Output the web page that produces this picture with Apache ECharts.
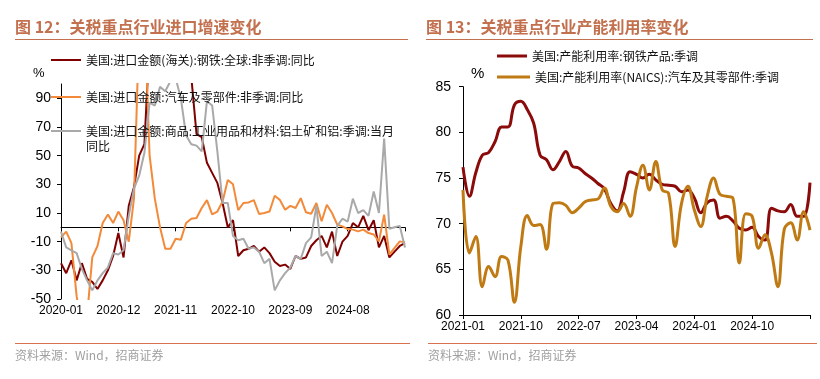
<!DOCTYPE html>
<html><head><meta charset="utf-8">
<script src="https://cdn.jsdelivr.net/npm/echarts@6/dist/echarts.min.js"></script>
<style>html,body{margin:0;padding:0;background:#fff}#c{width:820px;height:379px}</style>
</head><body><div id="c"></div>
<script>
function monthLabels(y, m, n) {
  const out = [];
  for (let k = 0; k < n; k++) {
    const mm = m - 1 + k;
    const yy = y + Math.floor(mm / 12);
    const mo = (mm % 12) + 1;
    out.push(yy + '-' + (mo < 10 ? '0' + mo : '' + mo));
  }
  return out;
}
// categories
const catsImport = monthLabels(2020, 1, 67);   // 2020-01 .. 2025-07
const catsUtil = monthLabels(2021, 1, 55);     // 2021-01 .. 2025-07

// left panel: import growth yoy (%)
const importSteel = [-25,-32,-23,-37,-25,-36,-38,-43,-37,-30,-20,-4,-21,15,28,50,58,130,160,175,180,170,150,140,120,105,65,63,45,38,31,17,0,5,-20,-16,-15,-13,-17,-14,-18,-24,-27,-26,-29,-20,-22,-21,-13,-9,-6,-14,-3,-20,-10,-6,3,0,8,-2,5,-14,-6,-21,-17,-13,-11];
const importAuto = [-7,-3,-11,-48,-70,-62,-21,-13,3,9,3,11,5,-10,20,140,150,50,20,0,-15,-15,-8,-8.6,3,6,6.5,13.5,19,9,11,18,33,30,12,17,17.4,19,9.3,10,11,22,19,12.3,15,13.5,20.4,10.5,9.5,17,4.2,15.8,10,1.9,0.7,-1.2,-1.6,-2.8,-1.6,-4,-5,-9.8,8.8,-19,-14.4,-9.8,-10.5];
const importAlu = [-3,-14,-16,-18,-29,-37,-44,-37,-32,-28,-18,-19,-16,8,27,36,52,87,85,98,95,102,104,90,64,58,57,53,88,85,53,17,17,-6,-9,-8,-15,-14,-17,-25,-22,-44,-37,-32,-28,-20,-22,-11,-7,15,-20,-17,-25,1,6,4,20,10,12,8,25,10,62,-1,0,1,-14];

// right panel: capacity utilization (%)
const utilSteel = [76.2,73.0,75.6,77.5,77.8,79.0,80.6,80.6,83.0,83.4,82.5,81.0,77.5,77.0,75.9,76.8,77.9,76.3,76.1,75.5,75.0,74.4,73.8,72.2,71.4,73.5,75.7,75.4,75.0,75.4,74.8,74.3,74.2,74.1,73.5,73.7,72.8,71.2,72.3,72.6,70.6,70.8,70.3,69.5,69.3,69.6,68.6,68.2,71.7,71.4,71.3,72.1,70.8,70.8,74.5];
const utilAuto = [73.7,66.8,68.6,63.1,65.3,64.2,66.4,66.0,61.4,67.5,70.9,69.8,69.9,67.2,72.2,72.3,72.0,71.2,71.7,72.4,72.6,72.7,73.9,71.9,71.3,72.2,70.8,74.0,76.4,73.7,76.8,73.7,73.3,67.5,72.2,74.1,71.5,69.7,73.0,75.0,73.2,73.0,72.8,65.7,71.1,70.8,67.3,68.8,66.8,63.1,69.4,70.1,68.2,71.3,69.3];

const namesLeft = ['美国:进口金额(海关):钢铁:全球:非季调:同比', '美国:进口金额:汽车及零部件:非季调:同比', '美国:进口金额:商品:工业用品和材料:铝土矿和铝:季调:当月同比'];
const namesRight = ['美国:产能利用率:钢铁产品:季调', '美国:产能利用率(NAICS):汽车及其零部件:季调'];
const titles = ['图 12：关税重点行业进口增速变化', '图 13：关税重点行业产能利用率变化'];
const source = '资料来源：Wind，招商证券';

const NUM = '"Liberation Sans", Arial, sans-serif';
const CJK = '"Noto Sans CJK SC", "Noto Sans", sans-serif';
const cRed = '#800000', cOrange = '#F28A3A', cGray = '#A9A9A9';
const cRed2 = '#8B0A0A', cGold = '#C07A13';
const cTitle = '#C2704E';

function legendItem(name, left, top, w, h, fmt) {
  return {
    data: [name], left: left, top: top, padding: 0, icon: 'rect',
    itemWidth: w, itemHeight: h, selectedMode: false,
    formatter: fmt || '{name}',
    textStyle: { fontSize: 12, lineHeight: 14, color: '#111', fontFamily: CJK }
  };
}

const chart = echarts.init(document.getElementById('c'), null, { renderer: 'canvas' });
const option = {
  animation: false,
  textStyle: { fontFamily: NUM },
  title: [
    { text: titles[0], left: 15, top: 19, padding: 0, textStyle: { fontSize: 16, fontWeight: 'bold', color: cTitle, fontFamily: CJK } },
    { text: titles[1], left: 426, top: 19, padding: 0, textStyle: { fontSize: 16, fontWeight: 'bold', color: cTitle, fontFamily: CJK } }
  ],
  legend: [
    legendItem(namesLeft[0], 51, 53, 30, 2),
    legendItem(namesLeft[1], 51, 90, 30, 2),
    legendItem(namesLeft[2], 51, 124, 30, 2, function (n) { return n.replace('当月同比', '当月'); }),
    legendItem(namesRight[0], 497, 49, 30, 3),
    legendItem(namesRight[1], 497, 70, 33, 3)
  ],
  graphic: [
    { type: 'line', shape: { x1: 15, y1: 39.5, x2: 408, y2: 39.5 }, style: { stroke: cTitle, lineWidth: 1 } },
    { type: 'line', shape: { x1: 426, y1: 39.5, x2: 813, y2: 39.5 }, style: { stroke: cTitle, lineWidth: 1 } },
    { type: 'line', shape: { x1: 15, y1: 343.5, x2: 410, y2: 343.5 }, style: { stroke: '#D9704E', lineWidth: 1 } },
    { type: 'line', shape: { x1: 428, y1: 343.5, x2: 817, y2: 343.5 }, style: { stroke: '#D9704E', lineWidth: 1 } },
    { type: 'text', x: 15, y: 355, style: { text: source, fontSize: 12, fill: '#A0A0A0', fontFamily: CJK, verticalAlign: 'middle' } },
    { type: 'text', x: 428, y: 355, style: { text: source, fontSize: 12, fill: '#A0A0A0', fontFamily: CJK, verticalAlign: 'middle' } },
    { type: 'text', x: 33, y: 73, style: { text: '%', fontSize: 13, fill: '#000', fontFamily: NUM, verticalAlign: 'middle' } },
    { type: 'text', x: 471, y: 74, style: { text: '%', fontSize: 15, fill: '#000', fontFamily: NUM, verticalAlign: 'middle' } },
    { type: 'text', x: 86, y: 146, style: { text: '同比', fontSize: 12, fill: '#111', fontFamily: CJK, verticalAlign: 'middle' } }
  ],
  grid: [
    { left: 61, top: 84, width: 344, height: 215, outerBoundsMode: 'none' },
    { left: 463, top: 86.7, width: 347, height: 228.3, outerBoundsMode: 'none' }
  ],
  xAxis: [
    { gridIndex: 0, type: 'category', data: catsImport, boundaryGap: false, position: 'bottom',
      axisLine: { show: true, onZero: true, lineStyle: { color: '#000', width: 1 } },
      axisTick: { show: true, interval: 10, length: 4, lineStyle: { color: '#000' } },
      axisLabel: { show: false }, splitLine: { show: false } },
    { gridIndex: 0, type: 'category', data: catsImport, boundaryGap: false, position: 'bottom',
      axisLine: { show: false, onZero: false }, axisTick: { show: false }, splitLine: { show: false },
      axisLabel: { interval: function (i) { return i % 11 === 0 && i < 66; }, fontSize: 12, color: '#000', margin: 6, fontFamily: NUM } },
    { gridIndex: 1, type: 'category', data: catsUtil, boundaryGap: false, position: 'bottom',
      axisLine: { show: true, onZero: false, lineStyle: { color: '#000', width: 1 } },
      axisTick: { show: true, interval: 8, length: 4, lineStyle: { color: '#000' } }, splitLine: { show: false },
      axisLabel: { interval: function (i) { return i % 9 === 0 && i < 54; }, fontSize: 12, color: '#000', margin: 6, fontFamily: NUM } }
  ],
  yAxis: [
    { gridIndex: 0, type: 'value', min: -50, max: 100, interval: 20,
      axisLine: { show: true, lineStyle: { color: '#000', width: 1 } },
      axisTick: { show: true, length: 4, lineStyle: { color: '#000' } },
      axisLabel: { showMaxLabel: false, fontSize: 14, color: '#000', margin: 10, fontFamily: NUM },
      splitLine: { show: false } },
    { gridIndex: 1, type: 'value', min: 60, max: 85, interval: 5,
      axisLine: { show: true, lineStyle: { color: '#000', width: 1 } },
      axisTick: { show: true, length: 4, lineStyle: { color: '#000' } },
      axisLabel: { fontSize: 14, color: '#000', margin: 12, fontFamily: NUM },
      splitLine: { show: false } }
  ],
  series: [
    { name: namesLeft[0], type: 'line', xAxisIndex: 0, yAxisIndex: 0, data: importSteel, symbol: 'none', clip: true,
      lineStyle: { width: 2, color: cRed }, itemStyle: { color: cRed } },
    { name: namesLeft[1], type: 'line', xAxisIndex: 0, yAxisIndex: 0, data: importAuto, symbol: 'none', clip: true,
      lineStyle: { width: 2, color: cOrange }, itemStyle: { color: cOrange } },
    { name: namesLeft[2], type: 'line', xAxisIndex: 0, yAxisIndex: 0, data: importAlu, symbol: 'none', clip: true,
      lineStyle: { width: 2, color: cGray }, itemStyle: { color: cGray } },
    { name: namesRight[0], type: 'line', xAxisIndex: 2, yAxisIndex: 1, data: utilSteel, symbol: 'none', smooth: 0.4, clip: true,
      lineStyle: { width: 3, color: cRed2 }, itemStyle: { color: cRed2 } },
    { name: namesRight[1], type: 'line', xAxisIndex: 2, yAxisIndex: 1, data: utilAuto, symbol: 'none', smooth: 0.4, clip: true,
      lineStyle: { width: 3, color: cGold }, itemStyle: { color: cGold } }
  ]
};
chart.setOption(option);
</script>
</body></html>
